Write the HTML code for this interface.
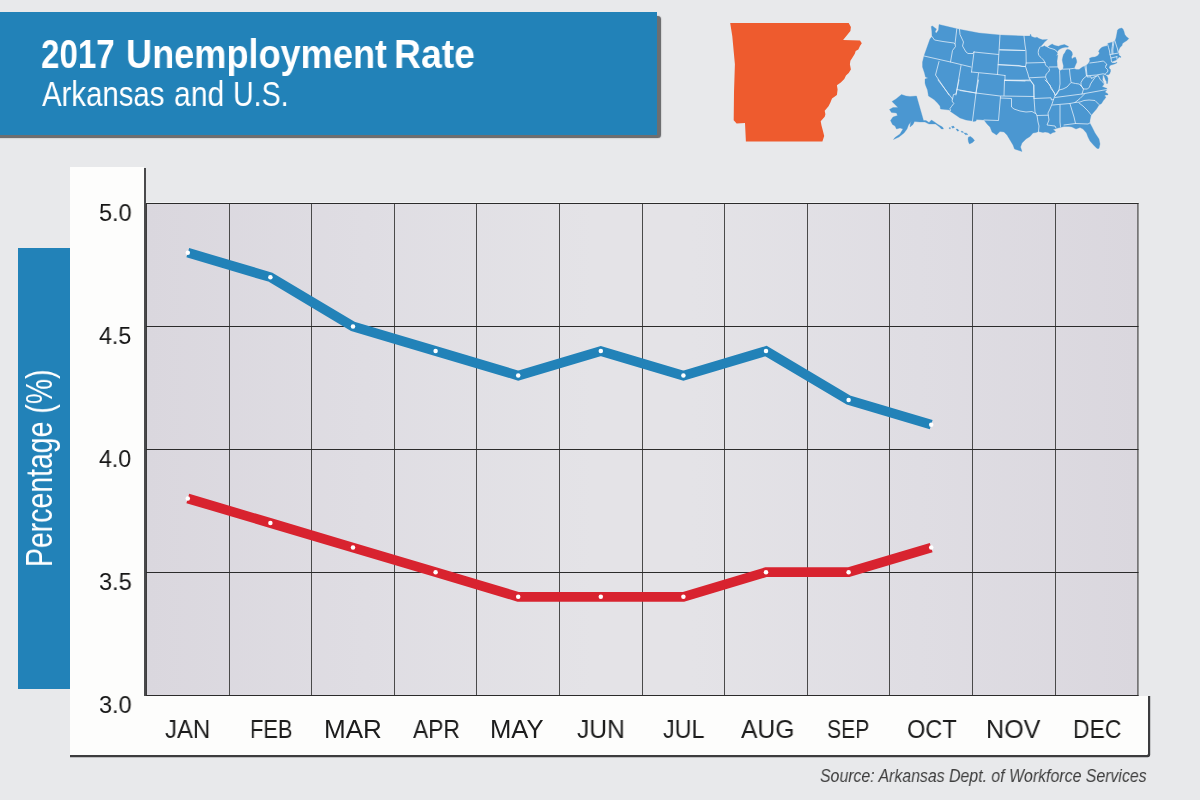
<!DOCTYPE html>
<html>
<head>
<meta charset="utf-8">
<title>2017 Unemployment Rate</title>
<style>
  html, body { margin: 0; padding: 0; }
  body {
    width: 1200px; height: 800px; overflow: hidden; position: relative;
    background: #e8e9eb;
    font-family: "Liberation Sans", sans-serif;
  }
  .abs { position: absolute; }
  .banner {
    left: 0; top: 12px; width: 657.25px; height: 123px;
    background: #2282b8;
  }
  .bshadow {
    left: -10px; top: 16px; width: 670.6px; height: 122.3px;
    background: rgba(45,45,48,0.66); border-radius: 0 3.5px 3.5px 0;
    box-shadow: 0 0 1.2px rgba(45,45,48,0.66);
  }
  .t {
    position: absolute; white-space: nowrap; line-height: 1;
    transform-origin: 0 0; display: block; will-change: transform;
  }
  .bluebox { left: 18px; top: 248px; width: 60px; height: 441.4px; background: #2282b8; }
  .vpanel {
    left: 70px; top: 167px; width: 73.5px; height: 587.8px; background: #fdfdfc;
    box-shadow: 2.3px 0.5px 0.4px #4a4a4c;
  }
  .hpanel {
    left: 70px; top: 696px; width: 1078.2px; height: 58.7px; background: #fdfdfc;
    box-shadow: 1.1px 1.1px 0.5px 1.1px #3c3c3e; border-bottom-right-radius: 1.5px;
  }
  .chart {
    left: 146px; top: 203px; width: 992px; height: 493px;
    box-shadow: 0 -1.2px 0.6px rgba(255,255,255,0.4);
    background: linear-gradient(to right, #dad7de 0%, #dfdde3 22%, #e4e3e7 45%, #e4e3e7 55%, #dfdde3 78%, #dad7de 100%);
  }
</style>
</head>
<body>

<div class="abs bshadow"></div>
<div class="abs banner"></div>

<!-- maps -->
<svg class="abs" id="maps" style="left:0;top:0" width="1200" height="170" viewBox="0 0 1200 170">
<path d="M730.2,23.1 L848.7,23.1 L850.9,27.0 L850.4,31.0 L843.1,40.1 L860.0,40.6 L861.8,43.3 L860.0,45.9 L858.3,49.4 L855.7,51.1 L854.8,53.8 L852.2,58.1 L850.4,60.8 L849.9,64.3 L850.9,69.5 L848.7,73.0 L846.0,75.6 L844.3,79.1 L840.8,82.6 L836.9,85.3 L837.6,89.6 L836.9,94.9 L832.0,98.4 L830.3,102.8 L828.5,106.3 L824.7,110.7 L825.4,114.2 L824.7,116.8 L820.7,121.2 L821.5,125.5 L822.9,130.8 L824.2,136.0 L822.4,141.6 L745.9,141.6 L745.0,122.9 L736.6,123.4 L733.7,120.3 L734.0,92.3 L734.9,64.3 L732.3,36.3Z" fill="#ee5b2e"/>
<path d="M931.2,26.5 L932.5,26.0 L935.0,28.0 L936.5,29.0 L935.0,32.0 L936.5,33.0 L938.5,30.0 L939.0,24.5 L958.0,29.0 L979.0,33.0 L1000.0,35.0 L1000.0,35.0 L1024.0,36.0 L1030.0,36.0 L1030.5,34.0 L1031.5,36.5 L1035.0,37.8 L1037.0,37.2 L1039.0,38.5 L1042.5,39.8 L1047.5,39.5 L1045.0,41.5 L1042.5,44.5 L1040.0,47.0 L1042.5,46.8 L1044.5,45.8 L1045.8,46.8 L1047.8,47.2 L1048.0,46.8 L1050.0,45.2 L1052.2,44.0 L1053.8,45.0 L1056.0,45.8 L1058.5,46.2 L1061.0,45.2 L1064.5,44.5 L1067.0,45.8 L1068.5,46.5 L1068.2,47.2 L1065.0,47.2 L1062.0,48.0 L1060.0,49.0 L1058.5,50.0 L1057.5,51.5 L1057.0,52.0 L1057.5,53.5 L1056.2,56.0 L1057.8,55.0 L1057.5,57.5 L1057.0,61.0 L1057.2,65.0 L1057.2,67.0 L1058.5,69.0 L1059.5,70.8 L1060.0,70.8 L1063.0,69.2 L1063.5,66.0 L1062.8,63.0 L1062.2,60.0 L1062.8,57.0 L1063.5,54.5 L1065.0,52.5 L1066.2,50.0 L1067.5,49.2 L1070.0,50.0 L1072.0,52.0 L1072.5,54.5 L1071.5,57.0 L1072.0,59.0 L1073.8,57.5 L1075.5,57.2 L1076.5,60.0 L1076.8,62.2 L1075.5,65.0 L1074.5,67.5 L1073.5,68.4 L1076.5,69.5 L1079.0,69.5 L1082.5,67.0 L1085.0,66.0 L1088.0,64.0 L1089.8,61.0 L1089.5,58.2 L1092.0,57.2 L1095.0,57.0 L1098.0,55.5 L1099.5,53.0 L1098.5,51.5 L1100.0,49.0 L1102.0,47.2 L1105.0,46.2 L1107.0,46.0 L1107.5,43.5 L1112.8,42.0 L1114.0,41.2 L1115.0,41.0 L1116.0,38.0 L1116.8,34.0 L1117.5,30.0 L1119.0,28.8 L1121.5,28.0 L1123.0,29.0 L1124.0,31.5 L1124.8,34.5 L1126.5,36.8 L1128.8,38.5 L1127.0,40.5 L1124.5,42.0 L1122.5,43.5 L1122.0,45.5 L1120.0,47.5 L1119.0,49.5 L1118.2,52.0 L1119.0,53.5 L1118.8,55.0 L1120.0,56.0 L1121.0,56.8 L1120.8,57.5 L1119.5,57.0 L1118.2,58.0 L1117.0,59.8 L1114.5,60.8 L1111.5,61.8 L1112.2,63.0 L1115.0,63.0 L1117.0,62.2 L1116.8,63.0 L1114.5,64.0 L1112.2,64.8 L1111.0,65.0 L1109.5,66.0 L1109.0,68.0 L1110.5,69.5 L1110.5,71.5 L1109.5,74.0 L1108.0,75.0 L1107.0,74.5 L1106.0,75.2 L1107.2,76.5 L1108.0,78.5 L1107.8,81.0 L1107.5,83.5 L1106.6,83.5 L1106.5,81.5 L1105.5,80.0 L1104.8,78.0 L1104.2,76.5 L1103.8,75.5 L1102.8,75.0 L1102.8,77.5 L1102.5,80.0 L1103.5,82.0 L1104.0,83.5 L1103.5,85.0 L1102.0,86.5 L1104.5,87.5 L1107.0,88.5 L1106.8,90.0 L1105.0,92.0 L1106.5,93.0 L1108.0,94.0 L1107.8,95.0 L1105.5,95.0 L1104.5,96.0 L1106.0,97.0 L1105.0,98.5 L1104.0,99.8 L1104.0,99.5 L1101.5,103.5 L1099.0,105.0 L1096.5,109.0 L1093.0,113.0 L1091.0,115.5 L1090.0,120.0 L1089.8,123.0 L1092.0,127.0 L1095.0,133.0 L1099.0,139.0 L1100.0,144.0 L1099.0,148.5 L1097.0,148.5 L1093.5,145.0 L1090.0,141.0 L1088.0,137.0 L1086.5,133.0 L1083.0,129.0 L1080.0,127.5 L1076.0,129.0 L1072.0,127.0 L1069.0,126.5 L1064.0,126.5 L1062.0,127.0 L1058.0,128.0 L1055.0,129.0 L1053.0,129.5 L1055.0,131.0 L1055.5,132.0 L1053.0,132.5 L1050.5,134.0 L1048.0,132.5 L1045.0,132.0 L1043.0,132.5 L1038.5,131.5 L1036.0,132.5 L1033.0,133.0 L1030.0,136.5 L1026.0,139.0 L1022.0,143.0 L1020.5,147.0 L1022.0,151.5 L1019.0,150.5 L1014.5,149.0 L1013.0,145.0 L1010.0,140.0 L1007.0,135.0 L1004.0,132.0 L1000.0,131.5 L996.5,135.0 L992.0,132.0 L990.0,127.0 L987.0,124.0 L984.0,120.0 L976.5,119.5 L976.0,121.0 L973.5,121.5 L972.5,121.0 L966.0,120.0 L960.0,118.0 L950.5,111.5 L949.5,110.0 L940.5,109.0 L940.0,106.0 L937.5,103.0 L934.0,99.5 L928.5,96.0 L927.5,90.0 L925.5,85.0 L925.0,83.0 L925.0,79.0 L928.0,78.0 L925.5,77.0 L924.5,73.0 L922.5,67.0 L922.5,62.0 L924.0,56.0 L925.0,53.0 L927.5,46.0 L930.0,39.0 L932.0,36.5 L931.8,31.0Z M892.0,101.5 L896.0,99.0 L901.5,94.5 L906.0,96.0 L910.0,96.5 L916.5,96.0 L923.5,120.5 L926.0,120.5 L929.0,122.5 L931.5,120.0 L934.5,122.0 L938.0,124.5 L942.5,127.0 L943.5,129.0 L941.5,129.0 L939.0,126.5 L935.5,124.0 L932.0,124.0 L929.0,124.0 L925.0,122.0 L920.0,122.0 L914.5,121.5 L913.0,124.5 L910.0,127.0 L910.5,123.0 L911.5,121.0 L908.5,125.0 L907.0,129.0 L904.0,133.0 L899.0,137.0 L893.5,139.5 L895.0,137.5 L900.0,134.0 L903.0,129.0 L900.0,128.0 L896.5,129.0 L895.0,126.0 L892.5,124.5 L890.5,120.5 L893.0,117.0 L897.5,115.5 L896.5,113.0 L891.5,112.5 L889.5,109.5 L893.0,107.5 L898.0,107.5 L895.0,104.5Z M949.0,127.8 L950.3,127.6 L950.5,128.8 L949.3,128.8Z M951.5,126.5 L953.5,126.0 L954.5,127.5 L952.5,128.2Z M956.0,129.0 L957.5,129.0 L959.0,130.5 L957.5,131.2Z M961.0,131.2 L963.0,131.5 L963.5,132.5 L961.5,132.2Z M964.0,133.0 L966.5,133.2 L968.0,134.5 L965.5,134.8Z M968.5,137.0 L970.5,136.5 L973.0,138.5 L974.5,140.5 L972.5,142.5 L969.5,144.0 L968.5,142.0 L968.0,139.0Z" fill="#4b97d1" stroke="#4b97d1" stroke-width="0.3" stroke-linejoin="round"/>
<path d="M932.0,36.5 L934.5,40.0 L943.0,41.5 L954.0,43.0 L955.0,44.0 M956.8,28.8 L955.0,44.0 L955.5,46.5 L952.5,50.5 L950.5,62.0 M959.5,29.3 L960.0,34.5 L963.5,42.0 L962.5,46.0 L966.0,52.0 L968.0,53.5 L973.0,53.5 L974.0,52.0 M974.0,52.0 L998.5,54.5 M1000.0,35.0 L998.8,54.5 L997.5,74.5 M1000.0,49.8 L1025.0,50.5 M998.5,64.5 L1025.0,66.5 M974.0,52.0 L971.5,72.0 M924.0,56.0 L950.5,62.0 L971.0,67.0 M971.5,72.0 L997.5,74.5 L1005.0,75.5 M939.0,61.5 L935.5,75.0 L949.0,95.0 M961.0,65.5 L956.0,95.0 M978.5,73.5 L976.0,93.0 M1005.0,75.5 L1005.0,80.5 L1025.0,81.0 M938.0,80.0 L952.5,99.0 L952.0,101.0 L953.8,103.5 L951.5,106.5 L950.0,108.5 L950.5,110.5 M959.0,80.0 L957.0,89.5 L956.0,94.0 L953.5,94.5 L952.5,99.0 M957.0,89.5 L976.0,93.0 M978.5,80.0 L976.0,93.0 L972.5,121.0 M960.0,90.5 L976.0,93.0 L1000.0,96.0 L1034.0,96.5 M1004.5,80.0 L1004.0,95.5 M1004.5,80.5 L1030.0,80.0 M1030.0,80.0 L1033.5,85.0 L1034.0,98.0 L1035.0,112.0 L1037.0,115.5 L1038.0,122.0 L1039.0,126.0 L1038.5,131.5 M1000.5,96.5 L998.5,120.5 L984.0,120.0 M1000.5,98.0 L1011.5,98.5 L1011.5,107.0 L1014.0,109.0 L1020.0,111.0 L1026.0,112.0 L1032.0,111.5 L1035.5,113.5 M1034.0,98.5 L1051.0,97.8 L1051.5,100.0 L1053.5,99.5 M1037.0,115.5 L1048.0,115.2 M1045.0,80.0 L1050.0,85.0 L1051.0,88.5 L1054.5,93.0 L1055.0,95.5 L1053.5,99.5 L1052.0,104.0 L1050.0,109.0 L1048.0,113.0 L1048.5,117.0 L1049.0,120.0 L1047.0,125.0 L1055.0,126.0 L1056.0,128.0 M999.5,49.8 L1024.5,50.5 M1024.0,36.0 L1025.0,45.0 L1026.0,51.0 L1026.2,63.0 L1025.5,66.5 M998.0,64.8 L1019.0,65.5 L1022.0,66.5 L1025.5,66.5 L1028.0,74.0 L1029.0,78.0 L1031.0,81.0 L1034.0,85.0 L1034.0,98.0 M1026.2,63.0 L1045.0,62.5 M1029.5,77.8 L1045.0,77.0 M1005.0,80.0 L1029.5,80.8 M1040.0,47.0 L1038.5,50.0 L1038.2,52.5 L1038.8,55.5 L1041.0,57.5 L1043.5,60.0 L1044.8,62.2 L1045.5,65.0 L1047.5,67.0 L1049.2,68.5 L1049.5,70.0 L1048.5,72.0 L1046.2,74.0 L1045.5,77.0 L1047.5,82.0 L1051.5,88.0 L1054.5,93.5 L1055.5,95.5 M1049.5,67.0 L1057.2,66.9 M1047.8,47.2 L1050.0,48.2 L1053.0,49.0 L1055.5,50.0 L1057.0,51.8 M1059.5,70.8 L1059.8,75.0 L1060.0,84.0 L1059.0,90.0 L1057.0,94.0 L1055.5,95.5 M1063.0,69.2 L1070.0,68.9 L1073.5,68.4 M1069.5,69.5 L1070.0,75.0 L1071.0,82.0 M1055.5,95.0 L1059.0,90.0 L1063.0,89.0 L1067.0,87.0 L1071.0,82.5 L1075.5,83.5 L1079.0,84.0 L1081.0,85.5 M1085.0,66.5 L1086.5,76.0 L1083.0,79.0 L1081.0,82.5 L1081.0,85.5 M1087.0,75.8 L1096.5,75.0 L1103.0,73.8 L1105.0,74.2 L1106.0,75.2 M1086.0,65.0 L1087.0,75.8 M1089.8,63.0 L1097.5,62.0 L1103.5,61.0 L1106.0,63.5 L1107.0,65.0 L1106.0,65.0 L1105.5,67.5 L1107.5,69.5 L1108.0,71.0 L1106.5,73.0 L1105.0,74.2 M1081.0,85.5 L1083.5,89.0 L1087.5,89.0 L1089.5,87.0 L1090.5,84.0 L1092.5,81.0 L1095.0,77.5 L1096.2,76.2 L1098.2,75.6 L1100.0,79.2 L1102.0,81.5 L1103.8,83.2 M1087.0,75.8 L1087.2,77.0 L1091.0,76.8 L1091.5,78.5 L1094.0,77.0 L1096.2,76.2 M1107.5,43.8 L1108.5,47.5 L1109.5,51.0 L1110.0,54.5 L1111.0,58.0 L1111.5,61.8 M1112.8,42.0 L1112.3,46.5 L1111.8,50.0 L1112.0,54.0 M1114.0,41.5 L1113.3,46.0 L1112.8,50.0 L1113.0,53.8 M1115.0,41.0 L1116.2,45.0 L1117.5,49.0 L1118.2,52.0 M1110.0,54.6 L1113.0,54.0 L1118.5,53.0 M1111.0,58.0 L1117.0,56.6 M1116.8,56.8 L1117.1,59.6 M1055.0,97.5 L1082.0,94.0 L1107.0,89.5 M1082.0,94.0 L1083.5,89.0 L1081.0,85.5 M1052.5,105.0 L1070.0,103.5 L1075.0,102.5 L1080.0,98.5 L1084.5,94.0 M1075.0,102.5 L1080.0,102.0 L1084.0,100.5 L1089.0,100.0 L1095.0,100.5 L1099.0,104.5 M1079.0,103.0 L1083.0,106.0 L1088.0,111.0 L1091.2,115.0 M1070.0,103.8 L1074.0,117.0 L1075.5,123.5 L1088.0,124.0 L1089.8,123.0 M1064.0,125.0 L1075.5,123.5 M1060.0,105.0 L1060.0,122.0 L1060.5,127.0" fill="none" stroke="#e9f2f9" stroke-width="0.75" stroke-linejoin="round" stroke-linecap="round"/>
</svg>

<div class="abs bluebox"></div>
<div class="abs vpanel"></div>
<div class="abs hpanel"></div>
<div class="abs chart"></div>

<svg class="abs" id="plot" style="left:0;top:0" width="1200" height="800" viewBox="0 0 1200 800">
<line x1="146.40" y1="203" x2="146.40" y2="696" stroke="#2b2b2b" stroke-width="1"/>
<line x1="229.50" y1="203" x2="229.50" y2="696" stroke="#4a4a4a" stroke-width="1"/>
<line x1="311.50" y1="203" x2="311.50" y2="696" stroke="#4a4a4a" stroke-width="1"/>
<line x1="394.50" y1="203" x2="394.50" y2="696" stroke="#4a4a4a" stroke-width="1"/>
<line x1="476.50" y1="203" x2="476.50" y2="696" stroke="#4a4a4a" stroke-width="1"/>
<line x1="559.50" y1="203" x2="559.50" y2="696" stroke="#4a4a4a" stroke-width="1"/>
<line x1="642.50" y1="203" x2="642.50" y2="696" stroke="#4a4a4a" stroke-width="1"/>
<line x1="724.50" y1="203" x2="724.50" y2="696" stroke="#4a4a4a" stroke-width="1"/>
<line x1="807.50" y1="203" x2="807.50" y2="696" stroke="#4a4a4a" stroke-width="1"/>
<line x1="889.50" y1="203" x2="889.50" y2="696" stroke="#4a4a4a" stroke-width="1"/>
<line x1="972.50" y1="203" x2="972.50" y2="696" stroke="#4a4a4a" stroke-width="1"/>
<line x1="1055.50" y1="203" x2="1055.50" y2="696" stroke="#4a4a4a" stroke-width="1"/>
<line x1="1137.90" y1="203" x2="1137.90" y2="696" stroke="#666" stroke-width="1.5"/>
<line x1="146" y1="203.5" x2="1138.5" y2="203.5" stroke="#2b2b2b" stroke-width="1"/>
<line x1="146" y1="326.5" x2="1138.5" y2="326.5" stroke="#2b2b2b" stroke-width="1"/>
<line x1="146" y1="449.5" x2="1138.5" y2="449.5" stroke="#2b2b2b" stroke-width="1"/>
<line x1="146" y1="572.5" x2="1138.5" y2="572.5" stroke="#2b2b2b" stroke-width="1"/>
<line x1="146" y1="695.5" x2="1138.5" y2="695.5" stroke="#2b2b2b" stroke-width="1"/>
<polyline points="187.8,252.7 270.4,277.2 353.0,326.4 435.6,351.0 518.2,375.6 600.8,351.0 683.4,375.6 766.0,351.0 848.6,400.1 931.2,424.7" fill="none" stroke="#2282b8" stroke-width="9.7" stroke-linejoin="miter" stroke-linecap="butt"/><circle cx="187.8" cy="252.7" r="2.25" fill="#fff"/><circle cx="270.4" cy="277.2" r="2.25" fill="#fff"/><circle cx="353.0" cy="326.4" r="2.25" fill="#fff"/><circle cx="435.6" cy="351.0" r="2.25" fill="#fff"/><circle cx="518.2" cy="375.6" r="2.25" fill="#fff"/><circle cx="600.8" cy="351.0" r="2.25" fill="#fff"/><circle cx="683.4" cy="375.6" r="2.25" fill="#fff"/><circle cx="766.0" cy="351.0" r="2.25" fill="#fff"/><circle cx="848.6" cy="400.1" r="2.25" fill="#fff"/><circle cx="931.2" cy="424.7" r="2.25" fill="#fff"/>
<polyline points="187.8,498.5 270.4,523.0 353.0,547.6 435.6,572.2 518.2,596.8 600.8,596.8 683.4,596.8 766.0,572.2 848.6,572.2 931.2,547.6" fill="none" stroke="#d8232f" stroke-width="9.7" stroke-linejoin="miter" stroke-linecap="butt"/><circle cx="187.8" cy="498.5" r="2.25" fill="#fff"/><circle cx="270.4" cy="523.0" r="2.25" fill="#fff"/><circle cx="353.0" cy="547.6" r="2.25" fill="#fff"/><circle cx="435.6" cy="572.2" r="2.25" fill="#fff"/><circle cx="518.2" cy="596.8" r="2.25" fill="#fff"/><circle cx="600.8" cy="596.8" r="2.25" fill="#fff"/><circle cx="683.4" cy="596.8" r="2.25" fill="#fff"/><circle cx="766.0" cy="572.2" r="2.25" fill="#fff"/><circle cx="848.6" cy="572.2" r="2.25" fill="#fff"/><circle cx="931.2" cy="547.6" r="2.25" fill="#fff"/>
</svg>

<span class="t" style="left:41.44px;top:33.54px;font-size:40px;font-weight:bold;color:#fff;transform:scaleX(0.8279);">2017</span>
<span class="t" style="left:125.83px;top:33.54px;font-size:40px;font-weight:bold;color:#fff;transform:scaleX(0.9035);">Unemployment</span>
<span class="t" style="left:394.38px;top:33.54px;font-size:40px;font-weight:bold;color:#fff;transform:scaleX(0.9322);">Rate</span>
<span class="t" style="left:42.40px;top:77.24px;font-size:35.75px;color:#fff;transform:scaleX(0.8212);">Arkansas</span>
<span class="t" style="left:173.79px;top:77.24px;font-size:35.75px;color:#fff;transform:scaleX(0.8427);">and</span>
<span class="t" style="left:233.35px;top:77.24px;font-size:35.75px;color:#fff;transform:scaleX(0.8006);">U.S.</span>
<span class="t" style="left:20.66px;top:566.77px;font-size:37.5px;color:#fff;transform:rotate(-90deg) scaleX(0.7583);">Percentage (%)</span>
<span class="t" style="left:98.66px;top:200.68px;font-size:24px;color:#161616;transform:scaleX(0.9791);">5.0</span>
<span class="t" style="left:99.14px;top:323.68px;font-size:24px;color:#161616;transform:scaleX(0.9680);">4.5</span>
<span class="t" style="left:99.14px;top:446.68px;font-size:24px;color:#161616;transform:scaleX(0.9644);">4.0</span>
<span class="t" style="left:98.66px;top:569.68px;font-size:24px;color:#161616;transform:scaleX(0.9828);">3.5</span>
<span class="t" style="left:98.66px;top:692.68px;font-size:24px;color:#161616;transform:scaleX(0.9791);">3.0</span>
<span class="t" style="left:165.24px;top:716.61px;font-size:25.5px;color:#1c1c1c;transform:scaleX(0.9399);">JAN</span>
<span class="t" style="left:249.50px;top:716.61px;font-size:25.5px;color:#1c1c1c;transform:scaleX(0.8589);">FEB</span>
<span class="t" style="left:324.17px;top:716.61px;font-size:25.5px;color:#1c1c1c;transform:scaleX(1.0211);">MAR</span>
<span class="t" style="left:413.20px;top:716.61px;font-size:25.5px;color:#1c1c1c;transform:scaleX(0.8936);">APR</span>
<span class="t" style="left:490.45px;top:716.61px;font-size:25.5px;color:#1c1c1c;transform:scaleX(1.0050);">MAY</span>
<span class="t" style="left:576.63px;top:716.61px;font-size:25.5px;color:#1c1c1c;transform:scaleX(0.9629);">JUN</span>
<span class="t" style="left:662.95px;top:716.61px;font-size:25.5px;color:#1c1c1c;transform:scaleX(0.9135);">JUL</span>
<span class="t" style="left:740.60px;top:716.61px;font-size:25.5px;color:#1c1c1c;transform:scaleX(0.9659);">AUG</span>
<span class="t" style="left:827.15px;top:716.61px;font-size:25.5px;color:#1c1c1c;transform:scaleX(0.8296);">SEP</span>
<span class="t" style="left:906.64px;top:716.61px;font-size:25.5px;color:#1c1c1c;transform:scaleX(0.9243);">OCT</span>
<span class="t" style="left:986.29px;top:716.61px;font-size:25.5px;color:#1c1c1c;transform:scaleX(0.9842);">NOV</span>
<span class="t" style="left:1072.87px;top:716.61px;font-size:25.5px;color:#1c1c1c;transform:scaleX(0.8964);">DEC</span>
<span class="t" style="left:820.02px;top:766.54px;font-size:18.5px;font-style:italic;color:#3f3f3f;transform:scaleX(0.8578);">Source: Arkansas Dept. of Workforce Services</span>
</body>
</html>
